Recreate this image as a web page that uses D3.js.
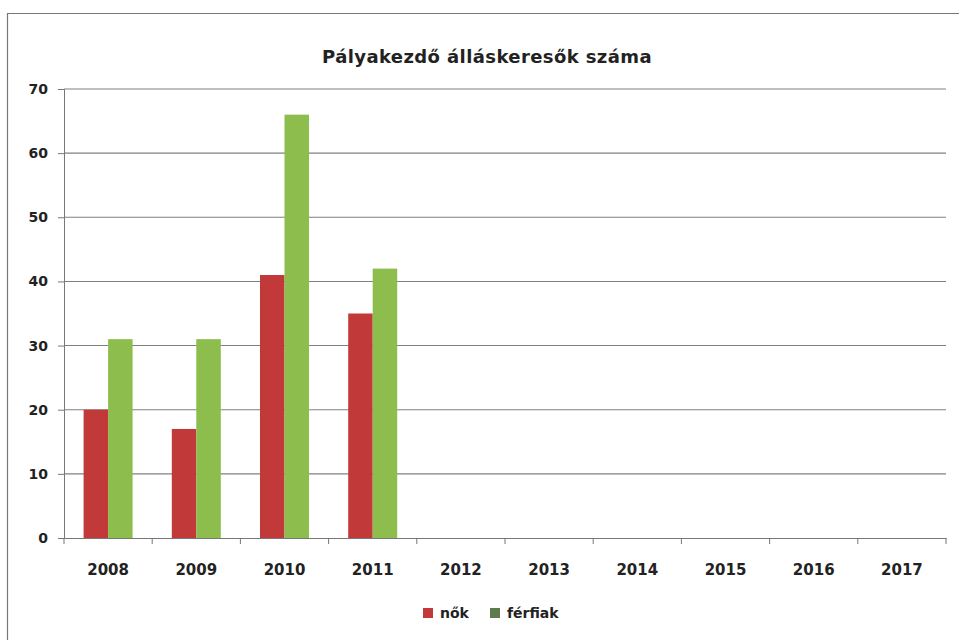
<!DOCTYPE html>
<html>
<head>
<meta charset="utf-8">
<script src="https://cdn.jsdelivr.net/npm/d3@7"></script>
<style>
  body { margin: 0; background: #fff; }
  svg text { font-family: "DejaVu Sans", sans-serif; font-weight: bold; fill: #222; }
</style>
</head>
<body>
<svg id="canvas" width="959" height="640"></svg>
<script>
let years = ['2008', '2009', '2010', '2011', '2012', '2013', '2014', '2015', '2016', '2017'];
let nok = [20, 17, 41, 35];
let ferfiak = [31, 31, 66, 42];
let seriesNames = ['nők', 'férfiak'];
let yTicks = [0, 10, 20, 30, 40, 50, 60, 70];

let colors = ['#c2393a', '#8dbd4c'];

let canvas = d3.select('#canvas');

let margin = { left: 64, right: 13, top: 89, bottom: 102 };
let width = 959 - margin.left - margin.right;
let height = 640 - margin.top - margin.bottom;

// chart frame
canvas.append('path')
  .attr('d', 'M7.5,660 V13.5 H970')
  .attr('fill', 'none')
  .attr('stroke', '#777')
  .attr('stroke-width', 1.2);

canvas.append('text')
  .attr('x', 487)
  .attr('y', 63)
  .attr('text-anchor', 'middle')
  .attr('font-size', 18)
  .attr('letter-spacing', 0.4)
  .text('Pályakezdő álláskeresők száma');

let g = canvas.append('g').attr('transform', `translate(${margin.left},${margin.top})`);

let x = d3.scaleBand().domain(years).range([0, width]);
let xInner = d3.scaleBand().domain(seriesNames).range([0, x.bandwidth()]).paddingOuter(0.8);
let y = d3.scaleLinear().domain([0, 70]).range([height, 0]);

// gridlines
g.selectAll('.grid')
  .data(yTicks.slice(1))
  .enter()
  .append('line')
  .attr('x1', 0)
  .attr('x2', width)
  .attr('y1', (d) => y(d))
  .attr('y2', (d) => y(d))
  .attr('stroke', '#808080')
  .attr('stroke-width', 1.1);

// bars
let series = [nok, ferfiak];
series.forEach((vals, si) => {
  g.selectAll('.bar' + si)
    .data(vals)
    .enter()
    .append('rect')
    .attr('x', (d, i) => x(years[i]) + xInner(seriesNames[si]))
    .attr('y', (d) => y(d))
    .attr('width', xInner.bandwidth())
    .attr('height', (d) => height - y(d))
    .attr('fill', colors[si]);
});

// y axis
let yAxis = g.append('g')
  .call(d3.axisLeft(y).tickValues(yTicks).tickSize(6).tickPadding(10));
yAxis.select('.domain').attr('stroke', '#777');
yAxis.selectAll('.tick line').attr('stroke', '#777');
yAxis.selectAll('text').attr('font-size', 14).style('font-family', '"DejaVu Sans", sans-serif').style('font-weight', 'bold');

// x axis
let xAxis = g.append('g')
  .attr('transform', `translate(0,${height})`)
  .call(d3.axisBottom(x).tickSize(0).tickPadding(26));
xAxis.select('.domain').attr('stroke', '#777');
xAxis.selectAll('text').attr('font-size', 15).style('font-family', '"DejaVu Sans", sans-serif').style('font-weight', 'bold');

g.selectAll('.xtick')
  .data(years.concat(['end']))
  .enter()
  .append('line')
  .attr('x1', (d, i) => i * x.bandwidth())
  .attr('x2', (d, i) => i * x.bandwidth())
  .attr('y1', height)
  .attr('y2', height + 6)
  .attr('stroke', '#777');

// legend
let legend = canvas.append('g').attr('transform', 'translate(423,618)');
let legendX = [0, 67];
let legendColors = ['#c2393a', '#5f7a4e'];
seriesNames.forEach((name, i) => {
  legend.append('rect')
    .attr('x', legendX[i])
    .attr('y', -10)
    .attr('width', 10)
    .attr('height', 10)
    .attr('fill', legendColors[i]);
  legend.append('text')
    .attr('x', legendX[i] + 17)
    .attr('y', 0)
    .attr('font-size', 14)
    .text(name);
});
</script>
</body>
</html>
